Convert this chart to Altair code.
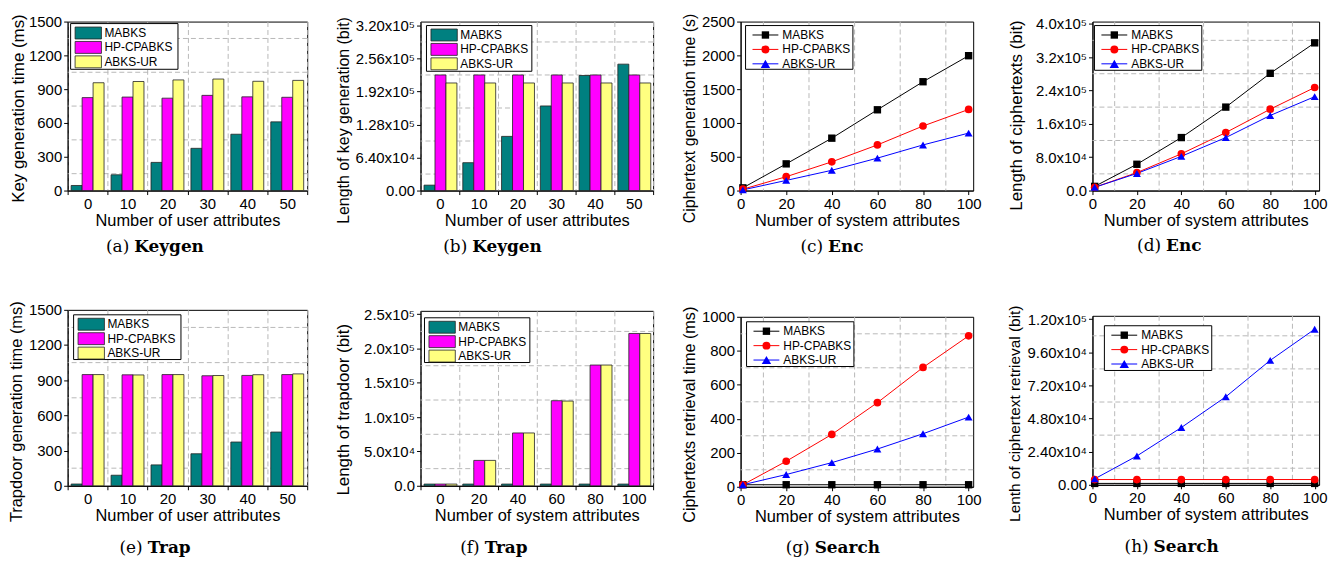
import altair as alt
import pandas as pd

SERIES = ["MABKS", "HP-CPABKS", "ABKS-UR"]
BAR_COLORS = ["#008080", "#FF00FF", "#FFFF80"]
LINE_COLORS = ["#000000", "#FF0000", "#0000FF"]
LINE_SHAPES = ["square", "circle", "triangle-up"]
LINE_SIZES = [55, 64, 90]

USER_ATTRS = [0, 10, 20, 30, 40, 50]
SYS_CATS = [0, 20, 40, 60, 80, 100]
SYS_ATTRS = [1, 20, 40, 60, 80, 100]
SYS_TICKS = [0, 20, 40, 60, 80, 100]
SYS_GRID = [10, 30, 50, 70, 90]

# (a) Keygen time (ms)
A_MABKS = [45, 140, 250, 375, 500, 610]
A_HP = [825, 830, 820, 845, 832, 828]
A_UR = [957, 968, 982, 990, 970, 978]
A_TICKS = [0, 300, 600, 900, 1200, 1500]
A_GRID = [150, 450, 750, 1050, 1350]

# (b) Keygen length (bit)
B_MABKS = [10500, 54000, 105000, 164000, 223000, 245000]
B_HP = [224000, 224000, 224000, 224000, 224000, 224000]
B_UR = [208500, 208500, 208500, 208500, 208500, 208500]
B_TICKS = [0, 64000, 128000, 192000, 256000, 320000]
B_GRID = [32000, 96000, 160000, 224000, 288000]

# (c) Enc time (s)
C_MABKS = [40, 395, 775, 1195, 1610, 1995]
C_HP = [20, 205, 425, 675, 955, 1200]
C_UR = [10, 150, 300, 480, 675, 850]
C_TICKS = [0, 500, 1000, 1500, 2000, 2500]

# (d) Enc length (bit)
D_MABKS = [10000, 63000, 127000, 200000, 281000, 354000]
D_HP = [7800, 43000, 88000, 139000, 195000, 247000]
D_UR = [7800, 41000, 82000, 127000, 180000, 225000]
D_TICKS = [0, 80000, 160000, 240000, 320000, 400000]
D_GRID = [40000, 120000, 200000, 280000, 360000]

# (e) Trap time (ms)
E_MABKS = [15, 90, 178, 273, 373, 458]
E_HP = [948, 946, 948, 938, 941, 948]
E_UR = [948, 945, 948, 940, 947, 954]
E_TICKS = [0, 300, 600, 900, 1200, 1500]
E_GRID = [150, 450, 750, 1050, 1350]

# (f) Trap length (bit)
F_MABKS = [2500, 2500, 2500, 2500, 2500, 2500]
F_HP = [2500, 37000, 77000, 124000, 176000, 222000]
F_UR = [2500, 37000, 77000, 123500, 176000, 222000]
F_TICKS = [0, 50000, 100000, 150000, 200000, 250000]
F_GRID = [25000, 75000, 125000, 175000, 225000]

# (g) Search time (ms)
G_MABKS = [12, 12, 12, 12, 12, 12]
G_HP = [12, 150, 308, 495, 702, 888]
G_UR = [12, 72, 142, 222, 312, 410]
G_TICKS = [0, 200, 400, 600, 800, 1000]
G_GRID = [100, 300, 500, 700, 900]

# (h) Search length (bit)
H_MABKS = [1000, 1000, 1000, 1000, 1000, 1000]
H_HP = [3800, 3800, 3800, 3800, 3800, 3800]
H_UR = [4300, 20900, 41500, 63800, 90200, 112800]
H_TICKS = [0, 24000, 48000, 72000, 96000, 120000]
H_GRID = [12000, 36000, 60000, 84000, 108000]

FONT = "Liberation Sans"
CAP_FONT = "DejaVu Serif"
GRID_COLOR = "#b8b8b8"
DASH = [5, 3]


def long_df(xs, vals):
    rows = []
    for s, v in zip(SERIES, vals):
        for x, y in zip(xs, v):
            rows.append({"x": x, "series": s, "value": y})
    return pd.DataFrame(rows)


def one(t):
    return pd.DataFrame({"t": [t]})


def sci(fmt, zero):
    e = "floor(log(datum.value) / LN10 + 1e-9)"
    return ("datum.value == 0 ? '" + zero + "' : format(datum.value / pow(10, " + e + "), '"
            + fmt + "') + 'x10' + (" + e + " == 5 ? '\u2075' : '\u2074')")


def legend_layers(box, kind, colors):
    x0, y0, x1, y1 = box
    out = [alt.Chart(one("")).mark_rect(fill="white", stroke="black", strokeWidth=1).encode(
        x=alt.value(x0), x2=alt.value(x1), y=alt.value(y0), y2=alt.value(y1))]
    for i, name in enumerate(SERIES):
        cy = y0 + 9.5 + 14.5 * i
        if kind == "bar":
            out.append(alt.Chart(one(name)).mark_rect(fill=colors[i], stroke="#222222", strokeWidth=0.8).encode(
                x=alt.value(x0 + 4.5), x2=alt.value(x0 + 31), y=alt.value(cy - 6), y2=alt.value(cy + 6)))
            tx = x0 + 34
        else:
            out.append(alt.Chart(one(name)).mark_rule(color=colors[i], strokeWidth=1).encode(
                x=alt.value(x0 + 7), x2=alt.value(x0 + 33), y=alt.value(cy)))
            out.append(alt.Chart(one(name)).mark_point(shape=LINE_SHAPES[i], filled=True, size=LINE_SIZES[i],
                                                       color=colors[i], opacity=1).encode(
                x=alt.value(x0 + 20), y=alt.value(cy)))
            tx = x0 + 37
        out.append(alt.Chart(one(name)).mark_text(align="left", baseline="middle", font=FONT,
                                                  fontSize=12, color="black").encode(
            x=alt.value(tx), y=alt.value(cy), text="t:N"))
    return out


def caption_layers(cx, cy, tag, word, split):
    return [
        alt.Chart(one(tag)).mark_text(align="right", baseline="middle", font=CAP_FONT, fontSize=17,
                                      color="black").encode(x=alt.value(cx + split), y=alt.value(cy), text="t:N"),
        alt.Chart(one(word)).mark_text(align="left", baseline="middle", font=CAP_FONT, fontSize=17,
                                       fontWeight="bold", color="black").encode(
            x=alt.value(cx + split + 5), y=alt.value(cy), text="t:N"),
    ]


def spacer(l, r, t, b):
    return alt.Chart(one("")).mark_rect(opacity=0).encode(
        x=alt.value(l), x2=alt.value(r), y=alt.value(t), y2=alt.value(b))


def y_axis(p):
    kw = dict(values=p["yticks"], title=p["ytitle"], titlePadding=p["tp"], grid=False, labelOverlap=False,
              titleFontSize=p["yts"], titleY=p["ty"])
    if p["expr"]:
        kw["labelExpr"] = p["expr"]
    else:
        kw["format"] = "d"
    return alt.Axis(**kw)


def bar_panel(p):
    df = long_df(p["cats"], p["vals"])
    yscale = alt.Scale(domain=p["ydom"], nice=False, zero=False)
    yax = y_axis(p)
    layers = []
    layers.append(alt.Chart(pd.DataFrame({"g": p["ygrid"]})).mark_rule(
        color=GRID_COLOR, strokeDash=DASH, strokeWidth=1).encode(y=alt.Y("g:Q", scale=yscale, axis=yax)))
    layers.append(alt.Chart(df).mark_bar(stroke="#222222", strokeWidth=0.8, opacity=1).encode(
        x=alt.X("x:O", sort=p["cats"], scale=alt.Scale(paddingInner=0, paddingOuter=0),
                axis=alt.Axis(title=p["xtitle"], labelAngle=0, tickBand="extent", grid=True,
                              gridColor=GRID_COLOR, gridDash=DASH, titlePadding=1)),
        xOffset=alt.XOffset("series:N", sort=SERIES, scale=alt.Scale(paddingInner=0, paddingOuter=0.32)),
        y=alt.Y("value:Q", scale=yscale, axis=yax),
        color=alt.Color("series:N", sort=SERIES, scale=alt.Scale(domain=SERIES, range=BAR_COLORS), legend=None),
    ))
    return finish(p, layers, "bar", BAR_COLORS)


def line_panel(p):
    df = long_df(SYS_ATTRS, p["vals"])
    yscale = alt.Scale(domain=p["ydom"], nice=False, zero=False)
    xscale = alt.Scale(domain=[0, 102], nice=False, zero=False)
    yax = y_axis(p)
    xax = alt.Axis(values=SYS_TICKS, title=p["xtitle"], labelFlush=False, labelOverlap=False, grid=False,
                   format="d", titlePadding=1)
    layers = []
    if p["ygrid"]:
        layers.append(alt.Chart(pd.DataFrame({"g": p["ygrid"]})).mark_rule(
            color=GRID_COLOR, strokeDash=DASH, strokeWidth=1).encode(y=alt.Y("g:Q", scale=yscale, axis=yax)))
    layers.append(alt.Chart(pd.DataFrame({"g": SYS_GRID})).mark_rule(
        color=GRID_COLOR, strokeDash=DASH, strokeWidth=1).encode(x=alt.X("g:Q", scale=xscale, axis=xax)))
    xenc = alt.X("x:Q", scale=xscale, axis=xax)
    yenc = alt.Y("value:Q", scale=yscale, axis=yax)
    cenc = alt.Color("series:N", sort=SERIES, scale=alt.Scale(domain=SERIES, range=LINE_COLORS), legend=None)
    layers.append(alt.Chart(df).mark_line(strokeWidth=1).encode(x=xenc, y=yenc, color=cenc))
    layers.append(alt.Chart(df).mark_point(filled=True, opacity=1).encode(
        x=xenc, y=yenc, color=cenc,
        shape=alt.Shape("series:N", sort=SERIES, scale=alt.Scale(domain=SERIES, range=LINE_SHAPES), legend=None),
        size=alt.Size("series:N", sort=SERIES, scale=alt.Scale(domain=SERIES, range=LINE_SIZES), legend=None)))
    return finish(p, layers, "line", LINE_COLORS)


def finish(p, layers, kind, colors):
    layers += legend_layers(p["legend"], kind, colors)
    layers += caption_layers(p["capx"], p["capy"], p["tag"], p["word"], p["split"])
    layers.append(spacer(*p["cell"]))
    return alt.layer(*layers).properties(width=p["W"], height=p["H"])


USER_X = "Number of user attributes"
SYS_X = "Number of system attributes"

COL_EDGES = [8, 330, 672, 1000, 1334]
COL_LEFT = [65, 418, 738, 1090]
COL_W = [241, 234, 234, 228]
ROW_EDGES = [8, 290, 553]


def cell(col, row, top):
    P = COL_LEFT[col]
    return (COL_EDGES[col] - P, COL_EDGES[col + 1] - P, ROW_EDGES[row] - top, ROW_EDGES[row + 1] - top)


def common(col, row, top, H, capx_abs, capy_abs):
    return dict(W=COL_W[col], H=H, capx=capx_abs - COL_LEFT[col], capy=capy_abs - top, cell=cell(col, row, top))


pa = bar_panel(dict(cats=USER_ATTRS, vals=[A_MABKS, A_HP, A_UR], ydom=[0, 1500], yticks=A_TICKS, ygrid=A_GRID,
                    ytitle="Key generation time (ms)", xtitle=USER_X, tp=1, expr=None, yts=17, ty=87,
                    legend=(3, 2, 111, 48), tag="(a)", word="Keygen", split=-27,
                    **common(0, 0, 18, 170, 154, 245)))
pb = bar_panel(dict(cats=USER_ATTRS, vals=[B_MABKS, B_HP, B_UR], ydom=[0, 327500], yticks=B_TICKS, ygrid=B_GRID,
                    ytitle="Length of key generation (bit)", xtitle=USER_X, tp=4, expr=sci(".2f", "0.00"),
                    yts=16, ty=99, legend=(6, 4, 112, 50), tag="(b)", word="Keygen", split=-27,
                    **common(1, 0, 18, 170, 492, 245)))
pc = line_panel(dict(vals=[C_MABKS, C_HP, C_UR], ydom=[0, 2500], yticks=C_TICKS, ygrid=None,
                     ytitle="Ciphertext generation time (s)", xtitle=SYS_X, tp=4, expr=None, yts=16, ty=97,
                     legend=(5, 4, 113, 48), tag="(c)", word="Enc", split=-9,
                     **common(2, 0, 18, 170, 830, 245)))
pd_ = line_panel(dict(vals=[D_MABKS, D_HP, D_UR], ydom=[0, 405000], yticks=D_TICKS, ygrid=D_GRID,
                      ytitle="Length of ciphertexts (bit)", xtitle=SYS_X, tp=10, expr=sci(".1f", "0.0"),
                      yts=17, ty=94, legend=(2, 4, 110, 49), tag="(d)", word="Enc", split=-9,
                      **common(3, 0, 19, 170, 1168, 245)))
pe = bar_panel(dict(cats=USER_ATTRS, vals=[E_MABKS, E_HP, E_UR], ydom=[0, 1500], yticks=E_TICKS, ygrid=E_GRID,
                    ytitle="Trapdoor generation time (ms)", xtitle=USER_X, tp=4, expr=None, yts=16.5, ty=102,
                    legend=(6, 5, 114, 50), tag="(e)", word="Trap", split=-13.5,
                    **common(0, 1, 306, 177, 154, 546)))
pf = bar_panel(dict(cats=SYS_CATS, vals=[F_MABKS, F_HP, F_UR], ydom=[0, 255000], yticks=F_TICKS, ygrid=F_GRID,
                    ytitle="Length of trapdoor (bit)", xtitle=SYS_X, tp=11, expr=sci(".1f", "0.0"),
                    yts=17, ty=99, legend=(4, 7, 110, 52), tag="(f)", word="Trap", split=-13.5,
                    **common(1, 1, 307, 176, 491, 546)))
pg = line_panel(dict(vals=[G_MABKS, G_HP, G_UR], ydom=[0, 1000], yticks=G_TICKS, ygrid=G_GRID,
                     ytitle="Ciphertexts retrieval time (ms)", xtitle=SYS_X, tp=4, expr=None, yts=16.3, ty=98,
                     legend=(6, 5, 114, 50), tag="(g)", word="Search", split=-24.5,
                     **common(2, 1, 313, 171, 832, 546)))
ph = line_panel(dict(vals=[H_MABKS, H_HP, H_UR], ydom=[0, 122500], yticks=H_TICKS, ygrid=H_GRID,
                     ytitle="Lenth of ciphertext retrieval (bit)", xtitle=SYS_X, tp=5, expr=sci(".2f", "0.00"),
                     yts=15.5, ty=98, legend=(12, 10, 120, 55), tag="(h)", word="Search", split=-24.5,
                     **common(3, 1, 313, 170, 1171, 546)))

RES = dict(color="independent", shape="independent", size="independent")
cols = [alt.vconcat(top, bottom, spacing=0).resolve_scale(**RES)
        for top, bottom in [(pa, pe), (pb, pf), (pc, pg), (pd_, ph)]]

chart = alt.hconcat(*cols, spacing=0).resolve_scale(**RES).properties(padding=0).configure_view(
    stroke="black", strokeWidth=1
).configure_axis(
    labelFont=FONT, titleFont=FONT, labelFontSize=15, titleFontSize=16.5, titleFontWeight="normal",
    labelColor="black", titleColor="black", domainColor="black", tickColor="black",
    tickSize=4, labelPadding=2, tickWidth=1, domainWidth=1
)

chart.save("out.html", embed_options={"renderer": "svg", "actions": False})
